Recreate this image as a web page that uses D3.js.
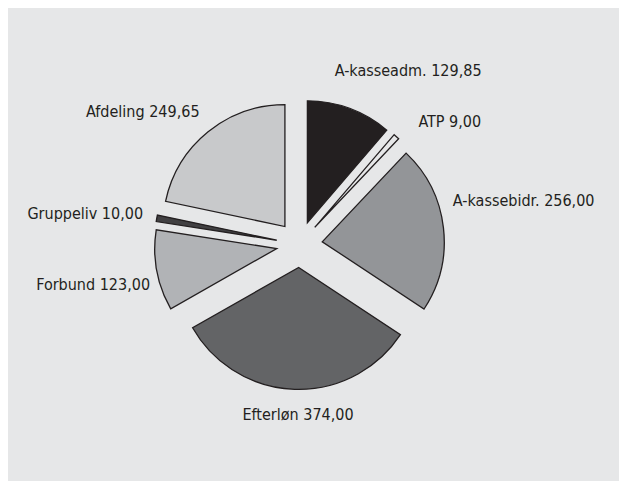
<!DOCTYPE html>
<html>
<head>
<meta charset="utf-8">
<script src="https://cdn.jsdelivr.net/npm/d3@7"></script>
<style>
  body { margin: 0; background: #ffffff; }
  .label { font-family: "DejaVu Sans Condensed", "DejaVu Sans", sans-serif; font-size: 16px; fill: #231f20; }
  .slice { stroke: #231f20; stroke-width: 1.3px; stroke-linejoin: miter; }
</style>
</head>
<body>
<div id="box-div"></div>
<script>
// data (clockwise from 12 o'clock)
const categories = ['A-kasseadm.', 'ATP', 'A-kassebidr.', 'Efterløn', 'Forbund', 'Gruppeliv', 'Afdeling'];
const values = [129.85, 9.00, 256.00, 374.00, 123.00, 10.00, 249.65];
const colours = ['#231f20', '#e6e7e8', '#939598', '#636466', '#b1b3b6', '#414042', '#c8c9cb'];

const dms = {
    width: 619,
    height: 481,
    panel: { x: 8, y: 8 },
    cx: 299.4,
    cy: 244.4,
    radius: 122,
    explode: 23,
    labelRadius: 165
};
//"dms" for dimensions

// hand nudges for the labels, the original had them placed by hand
const labelNudge = [[26, -14], [19, 4], [-10, -25], [6, -1.5], [12, 9], [5, 0], [-17, 0]];

const data = categories.map((c, i) => ({ name: c, value: values[i], colour: colours[i] }));

const box = d3.select('#box-div').append('svg')
    .attr('width', dms.width)
    .attr('height', dms.height);

box.append('rect')
    .attr('x', dms.panel.x)
    .attr('y', dms.panel.y)
    .attr('width', dms.width - dms.panel.x)
    .attr('height', dms.height - dms.panel.y)
    .attr('fill', '#e6e7e8');

const content = box.append('g')
    .attr('transform', `translate(${dms.cx},${dms.cy})`);

const pieGen = d3.pie()
    .sort(null)
    .value(d => d.value);

const arcGen = d3.arc()
    .innerRadius(0)
    .outerRadius(dms.radius);

const arcs = pieGen(data);
const mid = d => (d.startAngle + d.endAngle) / 2;
const unit = d => [Math.sin(mid(d)), -Math.cos(mid(d))];

content.selectAll('path.slice')
    .data(arcs)
    .join('path')
    .attr('class', 'slice')
    .attr('d', arcGen)
    .attr('fill', d => d.data.colour)
    .attr('transform', d => {
        const u = unit(d);
        return `translate(${u[0] * dms.explode},${u[1] * dms.explode})`;
    });

// labels: box pushed outward from a point on a circle, then nudged
const fmt = v => v.toFixed(2).replace('.', ',');

content.selectAll('text.label')
    .data(arcs)
    .join('text')
    .attr('class', 'label')
    .attr('text-anchor', 'middle')
    .text(d => `${d.data.name} ${fmt(d.data.value)}`)
    .each(function(d, i) {
        const u = unit(d);
        const w = this.getComputedTextLength();
        const h = 13;
        const x = u[0] * dms.labelRadius + u[0] * w / 2 + labelNudge[i][0];
        const y = u[1] * dms.labelRadius + u[1] * h / 2 + labelNudge[i][1];
        d3.select(this)
            .attr('x', x)
            .attr('y', y + 6);
    });
</script>
</body>
</html>
